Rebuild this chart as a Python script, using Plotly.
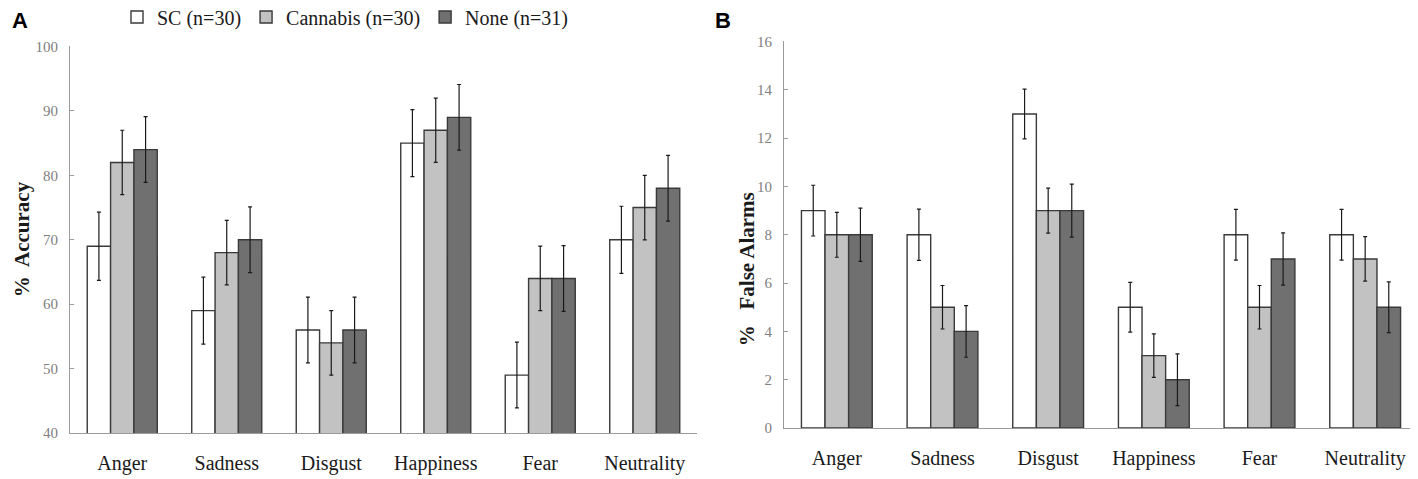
import plotly.graph_objects as go

emotions = ["Anger", "Sadness", "Disgust", "Happiness", "Fear", "Neutrality"]
groups = ["SC (n=30)", "Cannabis (n=30)", "None (n=31)"]

# panel A: % accuracy
acc_sc = [69, 59, 56, 85, 49, 70]
acc_cannabis = [82, 68, 54, 87, 64, 75]
acc_none = [84, 70, 56, 89, 64, 78]
acc_err_sc = [5.3, 5.2, 5.1, 5.2, 5.1, 5.2]
acc_err_cannabis = [5.0, 5.0, 5.0, 5.0, 5.0, 5.0]
acc_err_none = [5.1, 5.1, 5.1, 5.1, 5.1, 5.1]

# panel B: % false alarms
fa_sc = [9, 8, 13, 5, 8, 8]
fa_cannabis = [8, 5, 9, 3, 5, 7]
fa_none = [8, 4, 9, 2, 7, 5]
fa_err_sc = [1.05, 1.06, 1.03, 1.03, 1.05, 1.05]
fa_err_cannabis = [0.93, 0.9, 0.93, 0.9, 0.9, 0.92]
fa_err_none = [1.1, 1.07, 1.1, 1.07, 1.08, 1.05]

fills = ["#ffffff", "#c2c2c2", "#707070"]
serif = "Liberation Serif"

W, H = 1418, 479
# page offset of the figure, plus the strip the container legend reserves on top
OFF_X, OFF_Y = 6, 8
LEGEND_Y = 17
TOP = 26 + (LEGEND_Y - 15)
PLOT_H = H - TOP


def px(x):
    return (x - OFF_X) / W


def py(y):
    return 1 - (y - OFF_Y - TOP) / PLOT_H


fig = go.Figure()

panels = [
    ("x", "y", [acc_sc, acc_cannabis, acc_none],
     [acc_err_sc, acc_err_cannabis, acc_err_none], True),
    ("x2", "y2", [fa_sc, fa_cannabis, fa_none],
     [fa_err_sc, fa_err_cannabis, fa_err_none], False),
]
for xa, ya, series, errs, show in panels:
    for name, vals, err, col in zip(groups, series, errs, fills):
        fig.add_trace(go.Bar(
            x=emotions, y=vals, name=name, xaxis=xa, yaxis=ya,
            showlegend=show, legendgroup=name,
            marker=dict(color=col, line=dict(color="#3a3a3a", width=1.4)),
            error_y=dict(type="data", array=err, color="#1a1a1a",
                         thickness=1.2, width=2),
        ))

ytick = dict(family=serif, size=15, color="#808080")
xtick = dict(family=serif, size=20, color="#1a1a1a")
title_font = dict(family=serif, size=21, color="#1a1a1a", weight="bold")

yax = dict(showline=True, linecolor="#9a9a9a", linewidth=1.2, ticks="inside",
           ticklen=4, tickcolor="#9a9a9a", tickfont=ytick, ticklabelstandoff=8,
           showgrid=False, zeroline=False, automargin=False)
xax = dict(showline=True, linecolor="#9a9a9a", linewidth=1.2, ticks="",
           tickfont=xtick, ticklabelstandoff=12, showgrid=False,
           automargin=False)


def side_title(text, x, y):
    return dict(text=text, x=px(x), y=py(y), xref="paper", yref="paper",
                textangle=-90, showarrow=False, xanchor="center",
                yanchor="middle", font=title_font)


def panel_tag(text, x):
    return dict(text=f"<b>{text}</b>", x=px(x), y=py(20), xref="paper",
                yref="paper", xanchor="left", yanchor="middle",
                showarrow=False,
                font=dict(family="Liberation Sans", size=22, color="#000000"))


fig.update_layout(
    width=W, height=H,
    margin=dict(l=0, r=0, t=0, b=0),
    paper_bgcolor="white", plot_bgcolor="white",
    barmode="group", bargap=0.33, bargroupgap=0,
    font=dict(family=serif),
    legend=dict(orientation="h", xref="container", yref="container",
                x=(117 - 8) / W, y=1 - (LEGEND_Y - 8) / H, yanchor="middle",
                xanchor="left",
                font=dict(family=serif, size=20, color="#1a1a1a"),
                itemwidth=30, traceorder="normal"),
    xaxis=dict(domain=[px(68), px(695)], anchor="y", **xax),
    yaxis=dict(domain=[py(433), py(46)], anchor="x", range=[40, 100],
               dtick=10, **yax),
    xaxis2=dict(domain=[px(782), px(1416)], anchor="y2", **xax),
    yaxis2=dict(domain=[py(428), py(41)], anchor="x2", range=[0, 16],
                dtick=2, **yax),
    annotations=[
        side_title("%  Accuracy", 20, 239),
        side_title("%   False Alarms", 745, 269),
        panel_tag("A", 8),
        panel_tag("B", 711),
    ],
)

fig.write_html("out.html")
